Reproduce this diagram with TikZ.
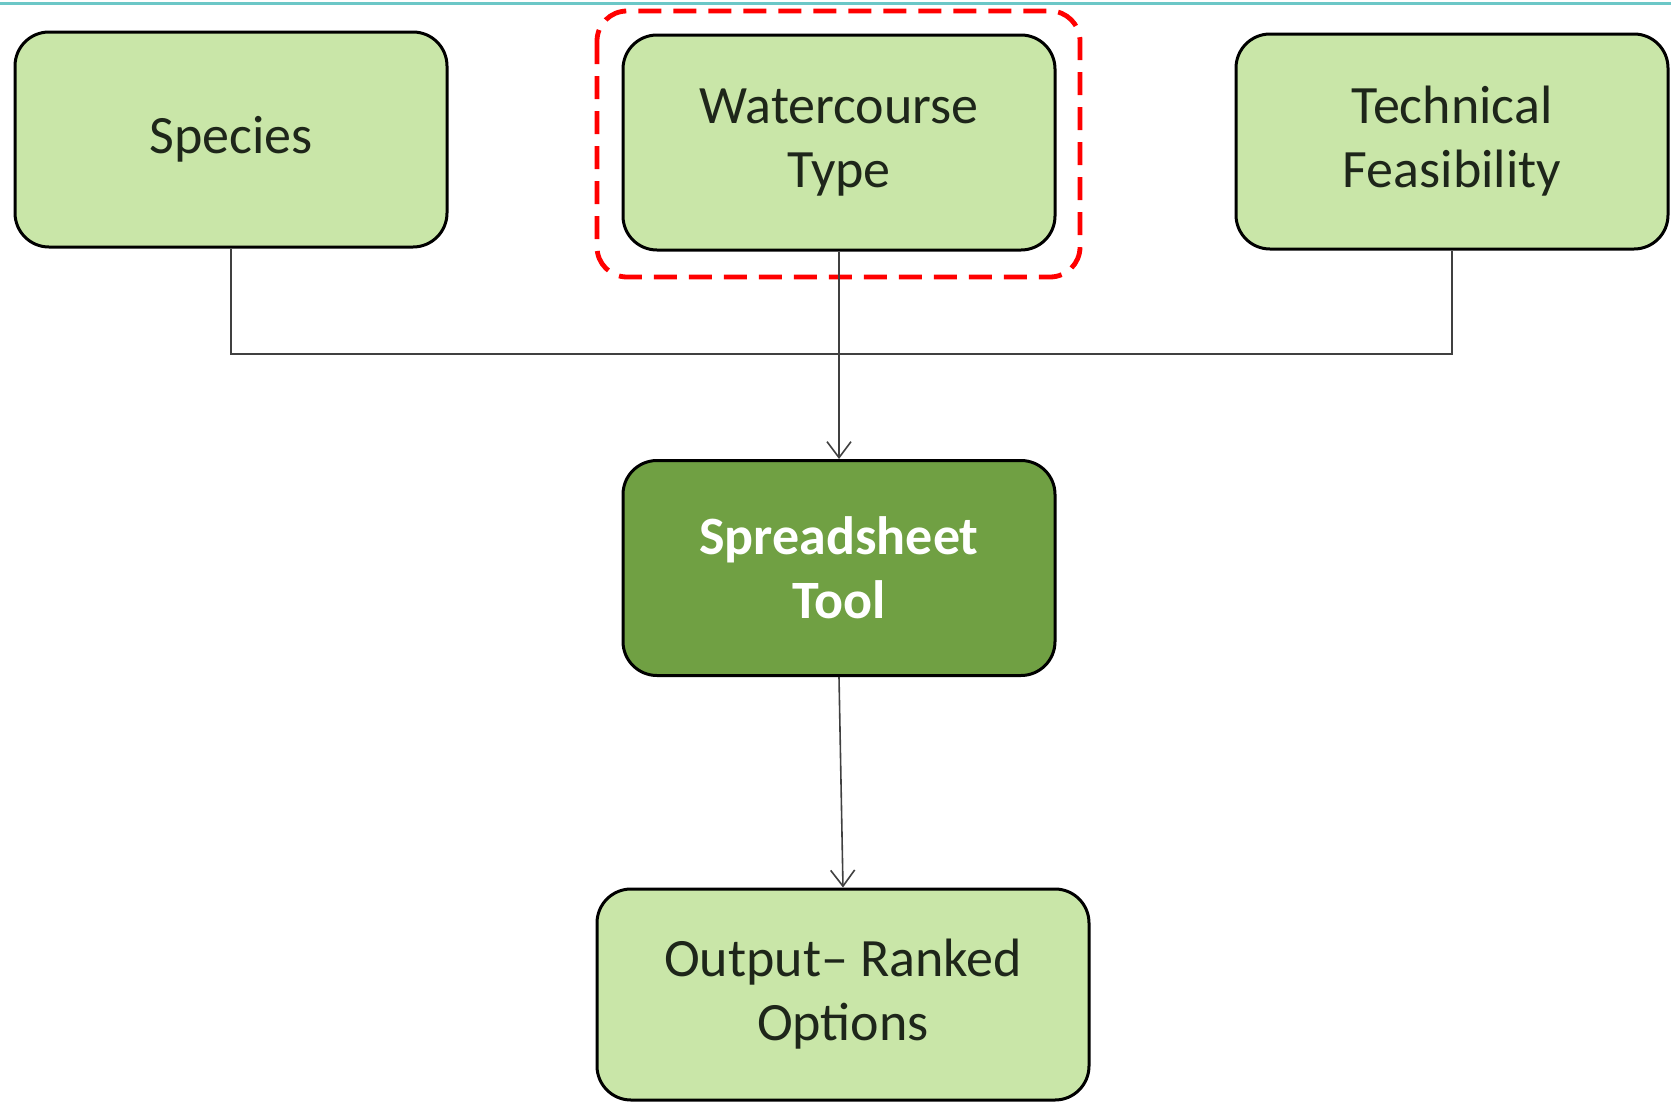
\documentclass[tikz,border=0pt]{standalone}
\usepackage{fontspec}
\setmainfont{Carlito}
\usetikzlibrary{arrows.meta,positioning}
\definecolor{lightgreen}{HTML}{C9E6A8}
\definecolor{darkgreen}{HTML}{70A043}
\definecolor{teal}{HTML}{6CC7C7}
\definecolor{boxtext}{HTML}{1E261A}
\tikzset{>={Straight Barb[width=12pt,length=8pt]}}
\tikzset{
  inbox/.style={draw=black, line width=1.5pt, fill=lightgreen, rounded corners=17pt,
    minimum width=216pt, minimum height=107.5pt, align=center, text=boxtext,
    font=\fontsize{27}{32}\selectfont},
  toolbox/.style={inbox, fill=darkgreen, text=white, font=\fontsize{27}{32}\selectfont\bfseries},
  link/.style={draw=black!75, line width=0.8pt},
  focus/.style={draw=red, line width=2.4pt, dash pattern=on 11.5pt off 6pt, rounded corners=15pt}
}
\begin{document}
\begin{tikzpicture}[x=0.5pt, y=-0.5pt]
  \useasboundingbox (0,0) rectangle (1671,1103);

  \draw[teal, line width=1.5pt](0,3)--(1671,3);

  \node[inbox]   (sp) at (231, 139.5) {Species};
  \node[inbox]   (wt) at (839, 142.5) {Watercourse\\Type};
  \node[inbox]   (tf) at (1452, 141.5) {Technical\\Feasibility};
  \node[toolbox] (ss) at (839, 568)   {Spreadsheet\\Tool};
  \node[inbox, minimum width=246pt, minimum height=105.5pt] (out) at (843, 994.5) {Output– Ranked\\Options};

  % highlight round the watercourse box
  \draw[focus](597,11) rectangle (1080,277);

  \coordinate (j) at (839, 354);
  \draw[link](sp.south) |- (j) -| (tf.south);
  \draw[link](wt.south) -- (j);
  \draw[link, ->](j) -- (ss.north);
  \draw[link, ->](ss.south) -- (out.north);
\end{tikzpicture}
\end{document}
